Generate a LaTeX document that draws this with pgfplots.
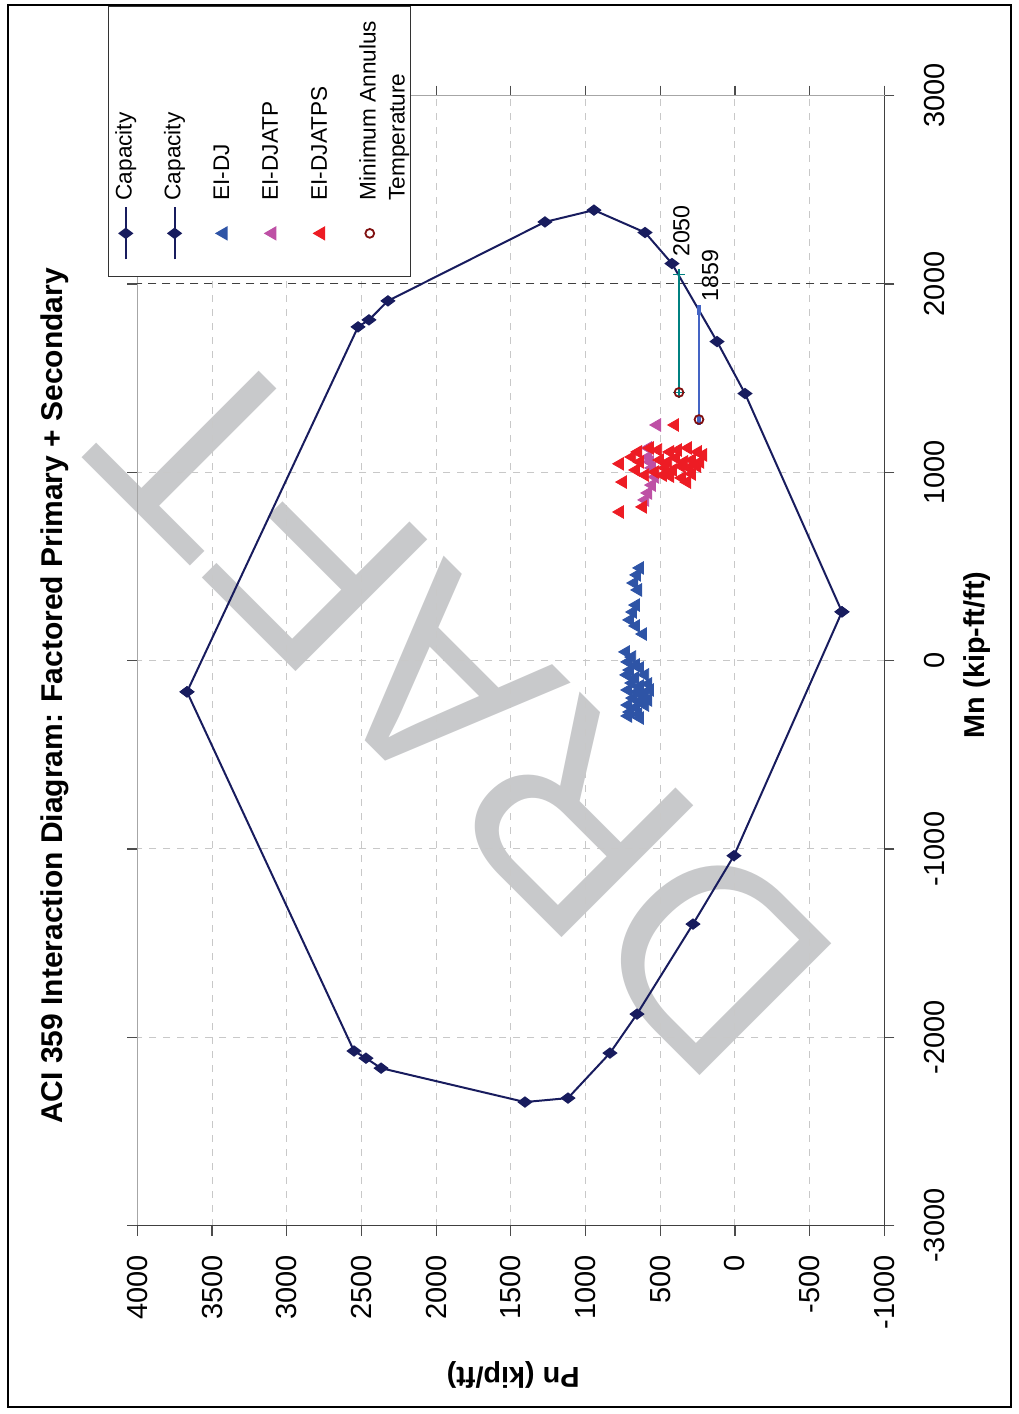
\documentclass[border=0pt]{standalone}
\usepackage{pgfplots}
\pgfplotsset{compat=1.18}
\usepackage{fontspec}
\setmainfont{Liberation Sans}
\definecolor{navy}{RGB}{24,28,94}
\definecolor{djblue}{RGB}{46,84,166}
\definecolor{djmag}{RGB}{190,80,165}
\definecolor{djred}{RGB}{237,28,36}
\definecolor{circred}{RGB}{128,16,16}
\definecolor{tealc}{RGB}{0,128,128}
\definecolor{lineblue}{RGB}{68,100,196}
\definecolor{gridgray}{RGB}{200,200,200}
\definecolor{wm}{RGB}{200,201,203}
\pgfplotsset{
  mylegimg/.style={legend image code/.code={\draw[mark repeat=2,mark phase=2,##1] plot coordinates {(0pt,0pt)(13pt,0pt)(26pt,0pt)}; \path[draw=none,fill=none] (-2.5pt,0pt) -- (0pt,0pt);}},
  mylegimgext/.style={legend image code/.code={\draw[mark repeat=2,mark phase=2,##1] plot coordinates {(0pt,0pt)(13pt,0pt)(26pt,0pt)}; \path[draw=none,fill=none] (13pt,0pt) -- (13pt,-18.5pt);}},
}
\begin{document}
\begin{tikzpicture}[x=1pt,y=1pt]
\begin{scope}[transform canvas={rotate=90}]
\draw[black, line width=0.65pt] (3.5,3.5) rectangle (704.5,505);
\node[text=wm, rotate=45, font=\fontsize{135.5}{135.5}\selectfont, inner sep=0pt] at (353.75,277.75) {DRAFT};
\begin{axis}[
  at={(94.2pt,66.8pt)}, anchor=south west,
  scale only axis, width=565pt, height=373.5pt,
  xmin=-3000, xmax=3000, ymin=-1000, ymax=4000,
  xtick={-3000,-2000,...,3000},
  ytick={-1000,-500,...,4000},
  clip=false,
  grid=major,
  grid style={draw=gridgray, line width=0.5pt, dash pattern=on 3.5pt off 3.5pt},
  axis line style={draw=gray!70, line width=0.6pt},
  tick align=outside, major tick length=5pt,
  tick style={draw=black!70, line width=0.6pt},
  /pgf/number format/assume math mode=true,
  /pgf/number format/1000 sep={},
  xticklabel style={font=\fontsize{14.5}{17}\selectfont, anchor=center, yshift=-20.3pt},
  yticklabel style={font=\fontsize{14.5}{17}\selectfont, anchor=east, inner sep=0pt, xshift=-9.7pt},
  title={ACI 359 Interaction Diagram: Factored Primary + Secondary},
  title style={at={(0.4687,1.1103)}, anchor=center, yshift=-6pt, font=\fontsize{15}{18}\selectfont\bfseries},
  xlabel={Mn (kip-ft/ft)},
  xlabel style={at={(0.505,-0.124)}, anchor=center, font=\fontsize{14.4}{17}\selectfont\bfseries},
  ylabel={Pn (kip/ft)},
  ylabel style={at={(-0.1322,0.497)}, anchor=center, font=\fontsize{14.4}{17}\selectfont\bfseries},
  legend cell align=left,
  legend style={
    at={(0.8395,1.0394)}, anchor=north west,
    draw=black!80, line width=0.6pt, fill=white,
    inner xsep=6pt, inner ysep=2pt,
    font=\fontsize{11.3}{14.5}\selectfont,
    row sep=11.2pt,
    nodes={inner sep=1pt, text height=8.5pt, text depth=2.7pt},
    /tikz/every odd column/.append style={column sep=2pt},
  },
]
% dashed limit line
\addplot[black!75, line width=0.45pt, dash pattern=on 4pt off 3pt, forget plot] coordinates {(2000,-1000) (2000,4000)};
% capacity
\addplot[navy, line width=1pt, mark=diamond*, mark size=3pt, mylegimg]
coordinates {(-166,3668) (1772,2523) (1809,2450) (1910,2323) (2329,1272) (2392,944) (2273,602) (2108,422) (1694,120) (1418,-67) (259,-716)};
\addlegendentry{Capacity}
\addplot[navy, line width=1pt, mark=diamond*, mark size=3pt, mylegimg]
coordinates {(-166,3668) (-2073,2550) (-2111,2470) (-2164,2369) (-2344,1406) (-2323,1118) (-2084,837) (-1877,656) (-1399,281) (-1036,7) (259,-716)};
\addlegendentry{Capacity}
% EI-DJ
\addplot[only marks, mark=triangle*, mark size=3.6pt, color=djblue, mylegimg]
coordinates {(492,636) (455,656) (412,676) (375,649) (295,663) (258,683) (216,703) (184,663) (141,616)
(46,730) (19,689) (-7,716) (-23,663) (-50,703) (-39,636) (-76,723) (-92,669) (-76,602) (-119,689) (-135,636) (-124,582) (-156,716) (-167,656) (-172,602) (-156,569) (-199,683) (-209,629) (-236,716) (-247,663) (-236,602) (-273,703) (-284,649) (-209,582) (-305,636) (-294,716)};
\addlegendentry{EI-DJ}
% EI-DJATP
\addplot[only marks, mark=triangle*, mark size=3.6pt, color=djmag, mylegimg]
coordinates {(1251,522) (1129,582) (1081,582) (1023,556) (975,535) (932,556) (890,582) (853,602) (1055,569)};
\addlegendentry{EI-DJATP}
% EI-DJATPS
\addplot[only marks, mark=triangle*, mark size=3.6pt, color=djred, mylegimg]
coordinates {(1251,402) (1045,770) (1081,689) (1108,649) (1129,569) (1118,515) (1108,435) (1118,382) (1129,315) (1108,248) (1092,214)
(985,482) (970,355) (948,321) (948,750) (985,602) (789,770) (816,616)
(1065,502) (1055,448) (1076,395) (1055,341) (1065,288) (1055,234) (1023,469) (1012,415) (1033,361) (1023,308) (1033,254) (1001,535) (980,435) (991,288) (1055,636) (1012,663)};
\addlegendentry{EI-DJATPS}
% lines to capacity
\addplot[tealc, line width=1pt, mark=+, mark size=3pt, mark options={line width=0.8pt}, forget plot] coordinates {(1424,375) (2050,375)};
\addplot[lineblue, line width=1pt, mark=-, mark size=2.5pt, mark options={line width=1.6pt}, forget plot] coordinates {(1280,241) (1859,241)};
% minimum annulus temperature
\addplot[only marks, mark=o, mark size=2.2pt, mark options={line width=0.9pt}, color=circred, mylegimgext]
coordinates {(1424,375) (1280,241)};
\addlegendentry{\rlap{\raisebox{-14.5pt}[0pt][0pt]{Temperature}}Minimum Annulus}
\node[font=\fontsize{11.6}{14}\selectfont, inner sep=0pt] at (axis cs:2281,358) {2050};
\node[font=\fontsize{11.6}{14}\selectfont, inner sep=0pt] at (axis cs:2045,167) {1859};
\draw[black!75, line width=0.7pt] (rel axis cs:0,1) -- (rel axis cs:0,0) -- (rel axis cs:1,0);
\end{axis}
\end{scope}
\pgfresetboundingbox
\path[use as bounding box] (-509,0) rectangle (0,707);
\end{tikzpicture}
\end{document}
